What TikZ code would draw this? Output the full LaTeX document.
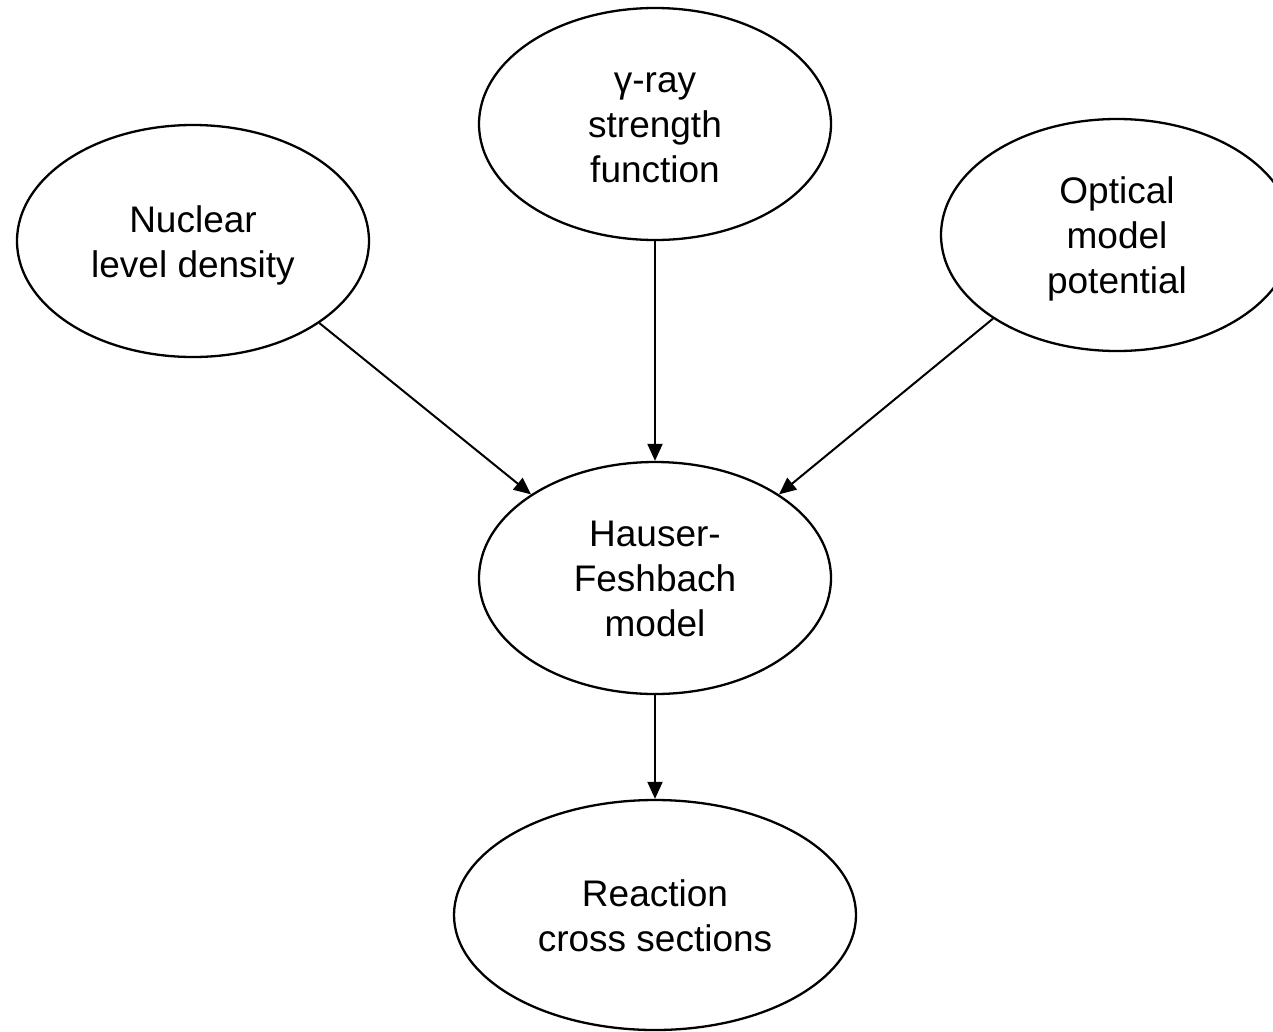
\documentclass[tikz,border=0pt]{standalone}
\usepackage{fontspec}
\setmainfont{Liberation Sans}
\usetikzlibrary{shapes.geometric,arrows.meta}
\begin{document}
\begin{tikzpicture}[x=1pt,y=-1pt,
  oval/.style={ellipse,draw=black,line width=2.3pt,fill=white,inner sep=0pt,
    minimum width=352pt,minimum height=232pt,align=center,
    font=\fontsize{37}{45}\selectfont,text depth=10pt},
  twolines/.style={text height=82.2pt},
  threelines/.style={text height=127.2pt},
  conn/.style={line width=2pt,-{Triangle[length=17pt,width=15pt]}}]
\clip (0,0) rectangle (1273,1031);
\fill[white] (0,0) rectangle (1273,1031);
\node[oval,twolines] (nuc) at (193,241) {Nuclear\\level density};
\node[oval,threelines] (gam) at (655,124) {γ-ray\\strength\\function};
\node[oval,threelines] (opt) at (1117,235) {Optical\\model\\potential};
\node[oval,threelines] (hf) at (655,578) {Hauser-\\Feshbach\\model};
\node[oval,twolines,minimum width=402pt,minimum height=230pt] (rx) at (655,915) {Reaction\\cross sections};
\draw[conn] (nuc.-33) -- (hf.146);
\draw[conn] (gam.south) -- (hf.north);
\draw[conn] (opt.214) -- (hf.34);
\draw[conn] (hf.south) -- (rx.north);
\end{tikzpicture}
\end{document}
